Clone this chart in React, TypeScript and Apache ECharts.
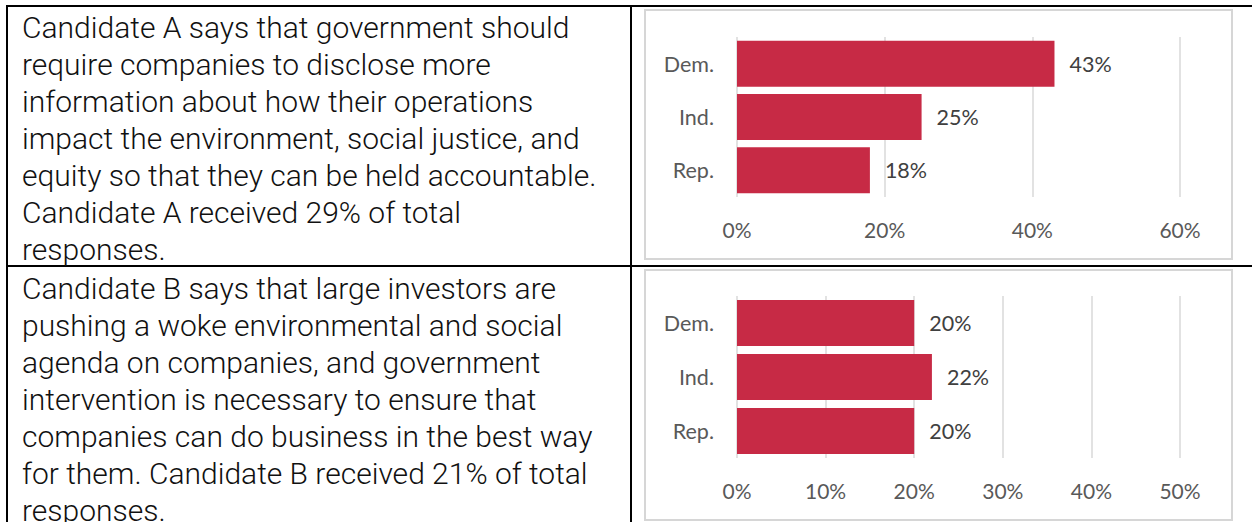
import React, { useEffect, useRef } from "react";
import * as echarts from "echarts";

const categories = ["Dem.", "Ind.", "Rep."];
const valuesA = [43, 25, 18];
const valuesB = [20, 22, 20];
const maxA = 60;
const intervalA = 20;
const maxB = 50;
const intervalB = 10;

const textA = [
  "Candidate A says that government should",
  "require companies to disclose more",
  "information about how their operations",
  "impact the environment, social justice, and",
  "equity so that they can be held accountable.",
  "Candidate A received 29% of total",
  "responses.",
];
const textB = [
  "Candidate B says that large investors are",
  "pushing a woke environmental and social",
  "agenda on companies, and government",
  "intervention is necessary to ensure that",
  "companies can do business in the best way",
  "for them. Candidate B received 21% of total",
  "responses.",
];

const BAR = "#c72a45";
const GRAY_TXT = "#595959";
const GRID = "#d9d9d9";
const FONT = "Lato, 'Open Sans', sans-serif";
const BODY_FONT = "300 30px Roboto, sans-serif";

export default function App() {
  const ref = useRef<HTMLDivElement>(null);
  useEffect(() => {
    if (!ref.current) return;
    const chart = echarts.init(ref.current, null, { renderer: "svg" });

    const xAxisBase = (max: number, interval: number, gridIndex: number) => ({
      type: "value",
      gridIndex,
      min: 0,
      max,
      interval,
      axisLine: { show: false },
      axisTick: { show: false },
      axisLabel: {
        formatter: "{value}%",
        color: GRAY_TXT,
        fontFamily: FONT,
        fontSize: 21,
        margin: 22,
      },
      splitLine: { show: true, lineStyle: { color: GRID, width: 1.5 } },
    });
    const yAxisBase = (gridIndex: number) => ({
      type: "category",
      gridIndex,
      data: categories,
      inverse: true,
      axisLine: { show: false },
      axisTick: { show: false },
      axisLabel: {
        color: GRAY_TXT,
        fontFamily: FONT,
        fontSize: 21.5,
        margin: 23,
      },
    });
    const barSeries = (data: number[], idx: number) => ({
      type: "bar",
      xAxisIndex: idx,
      yAxisIndex: idx,
      data,
      barWidth: 46,
      itemStyle: { color: BAR },
      label: {
        show: true,
        position: "right",
        distance: 15,
        formatter: "{c}%",
        color: "#404040",
        fontFamily: FONT,
        fontSize: 21.5,
      },
    });

    const lineStyle = { stroke: "#000", lineWidth: 2 };

    chart.setOption({
      animation: false,
      backgroundColor: "#fff",
      grid: [
        { left: 737, top: 37, width: 443, height: 160 },
        { left: 737, top: 296, width: 443, height: 162 },
      ],
      xAxis: [xAxisBase(maxA, intervalA, 0), xAxisBase(maxB, intervalB, 1)],
      yAxis: [yAxisBase(0), yAxisBase(1)],
      series: [barSeries(valuesA, 0), barSeries(valuesB, 1)],
      graphic: [
        { type: "line", shape: { x1: 6, y1: 6, x2: 1252, y2: 6 }, style: lineStyle, z: -1 },
        { type: "line", shape: { x1: 7, y1: 5, x2: 7, y2: 522 }, style: lineStyle, z: -1 },
        { type: "line", shape: { x1: 631, y1: 5, x2: 631, y2: 522 }, style: lineStyle, z: -1 },
        { type: "line", shape: { x1: 6, y1: 266, x2: 1252, y2: 266 }, style: lineStyle, z: -1 },
        {
          type: "rect",
          shape: { x: 645, y: 10, width: 587, height: 249 },
          style: { fill: "#fff", stroke: "#d6d6d6", lineWidth: 2 },
          z: -1,
        },
        {
          type: "rect",
          shape: { x: 645, y: 270, width: 587, height: 250 },
          style: { fill: "#fff", stroke: "#d6d6d6", lineWidth: 2 },
          z: -1,
        },
        {
          type: "text",
          x: 22,
          y: 8.5,
          style: {
            text: textA.join("\n"),
            font: BODY_FONT,
            lineHeight: 37,
            fill: "#111",
            verticalAlign: "top",
          },
        },
        {
          type: "text",
          x: 22,
          y: 269.5,
          style: {
            text: textB.join("\n"),
            font: BODY_FONT,
            lineHeight: 37,
            fill: "#111",
            verticalAlign: "top",
          },
        },
      ],
    });
    return () => chart.dispose();
  }, []);
  return (
    <div
      ref={ref}
      style={{ position: "absolute", left: 0, top: 0, width: 1252, height: 522 }}
    />
  );
}
